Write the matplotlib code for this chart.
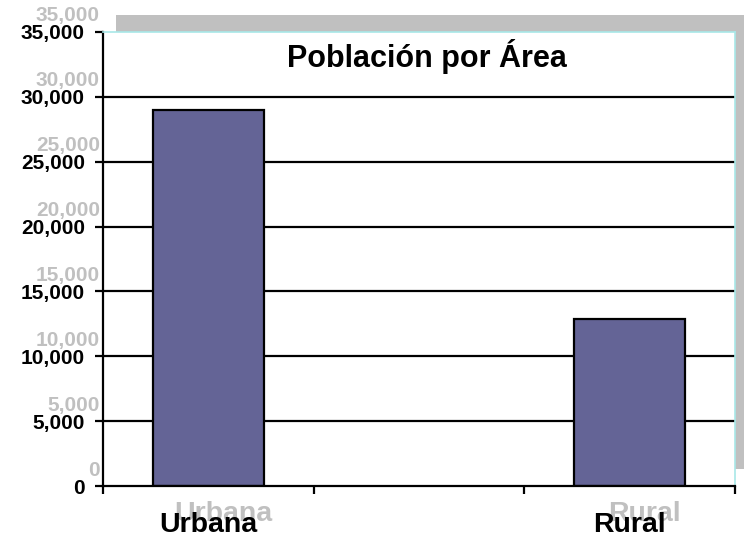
import matplotlib
matplotlib.use("Agg")
import matplotlib.pyplot as plt
import matplotlib.transforms as mtransforms
from matplotlib.patches import Rectangle

categories = ["Urbana", "Rural"]
positions = [0, 2]          # slot 1 is empty in the original
population = [29000, 12900]
yticks = [0, 5000, 10000, 15000, 20000, 25000, 30000, 35000]
title = "Población por Área"

plt.rcParams["font.family"] = ["Liberation Sans", "DejaVu Sans"]
plt.rcParams["font.weight"] = "bold"

DPI = 100
fig = plt.figure(figsize=(7.44, 5.4), dpi=DPI)
ax = fig.add_axes([103 / 744, 54 / 540, 632 / 744, 454 / 540])


def px_offset(dx, dy):
    # dx, dy in pixels, dy positive = up
    return mtransforms.ScaledTranslation(dx / DPI, dy / DPI, fig.dpi_scale_trans)


# grey drop shadow behind plot area
shadow = Rectangle((0, 0), 1, 1, transform=ax.transAxes + px_offset(13, 17),
                   facecolor="#c0c0c0", edgecolor="none", zorder=-5)
fig.patches.append(shadow)
shadow.set_figure(fig)

ax.set_xlim(-0.5, 2.5)
ax.set_ylim(0, 35000)

for v in yticks[1:-1]:
    ax.axhline(v, color="black", lw=1.6, zorder=1)

ax.bar(positions, population, width=0.53, color="#646496",
       edgecolor="black", linewidth=1.6, zorder=2)

for s in ["top", "right"]:
    ax.spines[s].set_color("#a8e8e8")
    ax.spines[s].set_linewidth(1.2)
for s in ["left", "bottom"]:
    ax.spines[s].set_linewidth(1.6)

ax.set_yticks(yticks)
ax.set_yticklabels([f"{v:,}" for v in yticks], fontsize=15, fontweight="bold")
ax.tick_params(axis="y", length=6, width=1.6, pad=7)

ax.set_xticks([-0.5, 0.5, 1.5, 2.5])
ax.set_xticklabels([])
ax.tick_params(axis="x", length=6, width=1.6)
ax.set_xticks(positions, minor=True)
ax.set_xticklabels(categories, minor=True, fontsize=20.5, fontweight="bold")
ax.tick_params(axis="x", which="minor", length=0, pad=19)

# grey shadow copies of the labels
ytr = mtransforms.blended_transform_factory(ax.transAxes, ax.transData)
for v in yticks:
    ax.text(0, v, f"{v:,}", transform=ytr + px_offset(-3, 16), ha="right",
            va="center", fontsize=15, fontweight="bold", color="#c0c0c0",
            clip_on=False, zorder=-1)
xtr = mtransforms.blended_transform_factory(ax.transData, ax.transAxes)
for p, c in zip(positions, categories):
    ax.text(p, 0, c, transform=xtr + px_offset(15, -28), ha="center",
            va="center", fontsize=20.5, fontweight="bold", color="#c0c0c0",
            clip_on=False, zorder=-1)

ax.text(0.513, 0.945, title, transform=ax.transAxes, ha="center", va="center",
        fontsize=22, fontweight="bold")

fig.savefig("out.png", dpi=DPI)
